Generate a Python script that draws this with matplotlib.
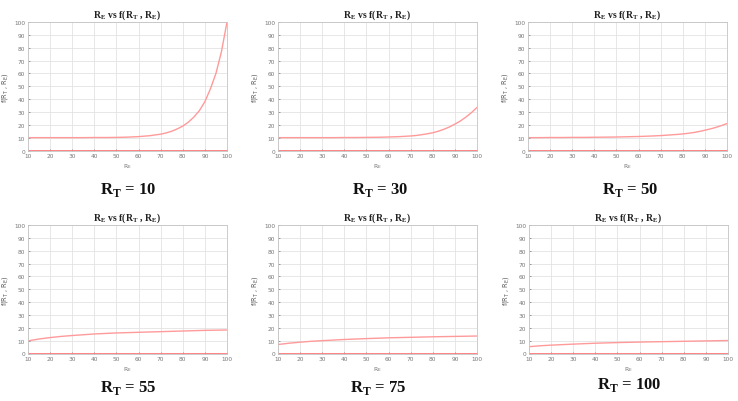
import matplotlib
matplotlib.use("Agg")
import matplotlib.pyplot as plt

plt.rcParams['mathtext.fontset'] = 'custom'
plt.rcParams['mathtext.rm'] = 'Liberation Serif:bold'
plt.rcParams['mathtext.bf'] = 'Liberation Serif:bold'
plt.rcParams['mathtext.sf'] = 'DejaVu Sans'

# Data
rt_values = [10, 30, 50, 55, 75, 100]

re_top = [10, 15, 20, 25, 30, 35, 40, 45, 50, 55, 60, 65, 70, 72.5, 75, 77.5, 80,
          82.5, 85, 87.5, 90, 92.5, 95, 97.5, 100]
f_rt10 = [10, 10, 10, 10, 10, 10, 10.1, 10.1, 10.2, 10.4, 10.8, 11.5, 12.7, 13.7,
          15, 16.8, 19, 22, 26, 31, 38, 48, 60, 77, 100]
f_rt30 = [10, 10, 10, 10, 10, 10, 10.1, 10.1, 10.2, 10.3, 10.5, 10.8, 11.3, 11.7,
          12.3, 13, 13.8, 15, 16.5, 18.3, 20.5, 23, 26, 29.5, 33.5]
f_rt50 = [10, 10, 10.1, 10.1, 10.2, 10.2, 10.3, 10.4, 10.5, 10.7, 10.9, 11.2, 11.6,
          11.9, 12.2, 12.5, 12.9, 13.4, 14, 14.8, 15.8, 16.8, 18, 19.4, 21]

re_bottom = [10, 15, 20, 25, 30, 40, 50, 60, 70, 80, 90, 100]
f_rt55 = [9.8, 11.3, 12.4, 13.3, 14, 15.2, 16, 16.5, 17, 17.5, 18, 18.3]
f_rt75 = [7, 8, 8.8, 9.5, 10, 10.9, 11.6, 12.2, 12.6, 13, 13.3, 13.6]
f_rt100 = [5.3, 6, 6.5, 6.9, 7.3, 8, 8.5, 8.9, 9.2, 9.5, 9.8, 10.1]

series = [(re_top, f_rt10), (re_top, f_rt30), (re_top, f_rt50),
          (re_bottom, f_rt55), (re_bottom, f_rt75), (re_bottom, f_rt100)]

xticks = list(range(10, 101, 10))
yticks = list(range(0, 101, 10))

W, H = 738, 402
fig = plt.figure(figsize=(W / 100, H / 100), dpi=100)
fig.patch.set_facecolor('white')

lefts = [28, 278, 528, 28, 278, 529]
tops = [23, 23, 23, 226, 226, 226]
aw, ah = 199, 128.5

label_pos = [(128, 190), (380, 190), (630, 190), (128, 388), (378, 388), (629, 385)]

curve_color = '#ff9a9a'
zero_color = '#ff7a7a'

for i, ((xs, ys), rt) in enumerate(zip(series, rt_values)):
    ax = fig.add_axes([lefts[i] / W, 1 - (tops[i] + ah) / H, aw / W, ah / H])
    ax.plot(xs, ys, color=curve_color, lw=1.0, solid_joinstyle='round')
    ax.plot(xs, [0] * len(xs), color=zero_color, lw=1.3)
    ax.set_xlim(10, 100)
    ax.set_ylim(0, 100)
    ax.set_xticks(xticks)
    ax.set_yticks(yticks)
    ax.grid(True, color='#e3e3e3', lw=0.6)
    ax.set_axisbelow(True)
    ax.tick_params(direction='in', length=1.5, width=0.5, labelsize=4.2,
                   colors='#777777', pad=2)
    for s in ax.spines.values():
        s.set_color('#c4c4c4')
        s.set_linewidth(0.6)
    ax.set_title(r'R$_\mathrm{E}$ vs f(R$_\mathrm{T}$ , R$_\mathrm{E}$)',
                 family='Liberation Serif', fontweight='bold', fontsize=7,
                 pad=4, color='#222222')
    ax.set_xlabel(r'R$_\mathsf{E}$', fontsize=4.5, color='#777777', labelpad=2)
    ax.set_ylabel(r'f(R$_\mathsf{T}$ , R$_\mathsf{E}$)', fontsize=4.8,
                  color='#555555', labelpad=3)
    lx, ly = label_pos[i]
    fig.text(lx / W, 1 - ly / H, r'R$_\mathrm{T}$ = ' + str(rt),
             family='Liberation Serif', fontweight='bold', fontsize=12,
             ha='center', va='center', color='#111111')

fig.savefig('out.png', dpi=100, facecolor='white')
